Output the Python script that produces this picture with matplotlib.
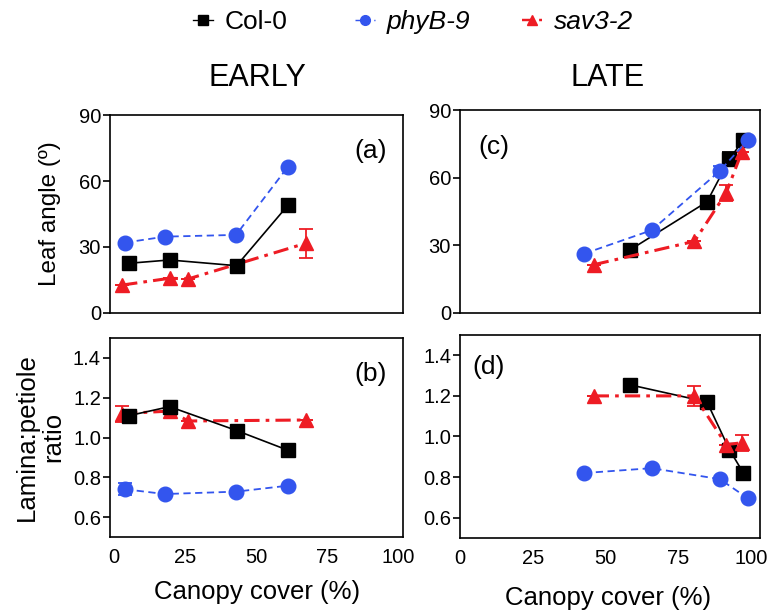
import matplotlib
matplotlib.use("Agg")
import matplotlib.pyplot as plt
from matplotlib.lines import Line2D

plt.rcParams['font.family'] = ['Liberation Sans', 'DejaVu Sans']

# ---------------- data ----------------
series_names = ["Col-0", "phyB-9", "sav3-2"]

# EARLY
early_col_x = [5.3, 19.6, 43.2, 61.3]
early_col_angle = [22.6, 24.1, 21.5, 49.0]
early_col_angle_err = [0, 0, 0, 0]
early_col_ratio = [1.11, 1.155, 1.035, 0.936]
early_col_ratio_err = [0, 0.025, 0, 0]

early_phy_x = [3.9, 17.9, 43.0, 61.3]
early_phy_angle = [32.0, 34.7, 35.5, 66.5]
early_phy_angle_err = [0, 0, 0, 0]
early_phy_ratio = [0.74, 0.716, 0.728, 0.758]
early_phy_ratio_err = [0.03, 0, 0, 0]

early_sav_x = [2.9, 19.7, 26.2, 67.6]
early_sav_angle = [12.7, 15.8, 15.5, 31.7]
early_sav_angle_err = [0, 0, 0, 6.6]
early_sav_ratio = [1.12, 1.133, 1.083, 1.088]
early_sav_ratio_err = [0.04, 0, 0, 0]

# LATE
late_col_x = [58.5, 84.8, 92.5, 97.3]
late_col_angle = [28.1, 49.3, 68.2, 76.8]
late_col_angle_err = [0, 0, 3.0, 0]
late_col_ratio = [1.254, 1.17, 0.935, 0.82]
late_col_ratio_err = [0, 0, 0.02, 0]

late_phy_x = [42.6, 65.8, 89.2, 98.9]
late_phy_angle = [26.3, 36.7, 63.0, 76.8]
late_phy_angle_err = [0, 0, 2.0, 0]
late_phy_ratio = [0.82, 0.844, 0.79, 0.695]
late_phy_ratio_err = [0, 0, 0, 0]

late_sav_x = [45.9, 80.5, 91.4, 96.7]
late_sav_angle = [21.4, 31.8, 53.3, 71.2]
late_sav_angle_err = [0, 0, 3.5, 0]
late_sav_ratio = [1.2, 1.2, 0.96, 0.969]
late_sav_ratio_err = [0, 0.05, 0, 0.04]

angle_ticks = [0, 30, 60, 90]
ratio_ticks = [0.6, 0.8, 1.0, 1.2, 1.4]
x_ticks = [0, 25, 50, 75, 100]

# ---------------- styles ----------------
BLACK = "#000000"
BLUE = "#3355ee"
RED = "#ee1c24"
styles = {
    "Col-0": dict(color=BLACK, marker="s", ls="-", lw=1.2, ms=10),
    "phyB-9": dict(color=BLUE, marker="o", ls=(0, (4, 2.5)), lw=1.3, ms=10.5),
    "sav3-2": dict(color=RED, marker="^", ls=(0, (5, 2, 1.2, 2)), lw=2.2, ms=10.5),
}

fig = plt.figure(figsize=(7.68, 6.16), dpi=100)
ax_a = fig.add_axes([0.1432, 0.4919, 0.3815, 0.3214])
ax_b = fig.add_axes([0.1432, 0.1282, 0.3815, 0.3231])
ax_c = fig.add_axes([0.5990, 0.4919, 0.3906, 0.3295])
ax_d = fig.add_axes([0.5990, 0.1266, 0.3906, 0.3296])


def plot_series(ax, name, x, y, err):
    st = styles[name]
    ax.errorbar(x, y, yerr=err, color=st["color"], ecolor=st["color"],
                elinewidth=1.3, capsize=5, capthick=1.3,
                marker=st["marker"], ms=st["ms"], ls=st["ls"], lw=st["lw"],
                mec=st["color"], mfc=st["color"], zorder=3)


plot_series(ax_a, "phyB-9", early_phy_x, early_phy_angle, early_phy_angle_err)
plot_series(ax_a, "sav3-2", early_sav_x, early_sav_angle, early_sav_angle_err)
plot_series(ax_a, "Col-0", early_col_x, early_col_angle, early_col_angle_err)

plot_series(ax_b, "phyB-9", early_phy_x, early_phy_ratio, early_phy_ratio_err)
plot_series(ax_b, "sav3-2", early_sav_x, early_sav_ratio, early_sav_ratio_err)
plot_series(ax_b, "Col-0", early_col_x, early_col_ratio, early_col_ratio_err)

plot_series(ax_c, "Col-0", late_col_x, late_col_angle, late_col_angle_err)
plot_series(ax_c, "sav3-2", late_sav_x, late_sav_angle, late_sav_angle_err)
plot_series(ax_c, "phyB-9", late_phy_x, late_phy_angle, late_phy_angle_err)

plot_series(ax_d, "phyB-9", late_phy_x, late_phy_ratio, late_phy_ratio_err)
plot_series(ax_d, "Col-0", late_col_x, late_col_ratio, late_col_ratio_err)
plot_series(ax_d, "sav3-2", late_sav_x, late_sav_ratio, late_sav_ratio_err)

for ax in (ax_a, ax_b):
    ax.set_xlim(-1.4, 101.8)
for ax in (ax_c, ax_d):
    ax.set_xlim(0.3, 103)
for ax in (ax_a, ax_c):
    ax.set_ylim(0, 90)
    ax.set_yticks(angle_ticks)
for ax in (ax_b, ax_d):
    ax.set_ylim(0.5, 1.5)
    ax.set_yticks(ratio_ticks)
    ax.set_yticklabels([f"{t:.1f}" for t in ratio_ticks])

for ax in (ax_a, ax_b, ax_c, ax_d):
    ax.set_xticks(x_ticks)
    for sp in ax.spines.values():
        sp.set_linewidth(1.2)
    ax.tick_params(axis="y", direction="out", length=5, width=1.2,
                   labelsize=14.5, pad=1.5)
    ax.tick_params(axis="x", length=0, labelsize=14.5, pad=8)
for ax in (ax_a, ax_c):
    ax.tick_params(axis="x", labelbottom=False)

# panel labels
ax_a.text(0.945, 0.82, "(a)", transform=ax_a.transAxes, ha="right", va="center", fontsize=19)
ax_b.text(0.945, 0.82, "(b)", transform=ax_b.transAxes, ha="right", va="center", fontsize=19)
ax_c.text(0.06, 0.82, "(c)", transform=ax_c.transAxes, ha="left", va="center", fontsize=19)
ax_d.text(0.04, 0.84, "(d)", transform=ax_d.transAxes, ha="left", va="center", fontsize=19)

# titles
fig.text(257 / 768, 1 - 78 / 616, "EARLY", ha="center", va="center", fontsize=22)
fig.text(608 / 768, 1 - 78 / 616, "LATE", ha="center", va="center", fontsize=22)

# axis labels
fig.text(50 / 768, 1 - 214 / 616, "Leaf angle (º)", rotation=90, ha="center", va="center", fontsize=17.5)
fig.text(40 / 768, 1 - 437 / 616, "Lamina:petiole\nratio", rotation=90, ha="center", va="center",
         fontsize=18.5, linespacing=1.15)
fig.text(257 / 768, 1 - 592 / 616, "Canopy cover (%)", ha="center", va="center", fontsize=18.5)
fig.text(608 / 768, 1 - 598 / 616, "Canopy cover (%)", ha="center", va="center", fontsize=18.5)

# legend: one entry per legend so each can be placed like the reference
legend_x = [193, 355, 522]
for i, n in enumerate(series_names):
    h = Line2D([], [], color=styles[n]["color"], marker=styles[n]["marker"],
               ls=styles[n]["ls"], lw=styles[n]["lw"] * 0.8, ms=7)
    leg = fig.legend([h], [n], loc="center left",
                     bbox_to_anchor=(legend_x[i] / 768, 1 - 22 / 616),
                     frameon=False, fontsize=19, handlelength=0.75,
                     handletextpad=0.45, borderpad=0, borderaxespad=0)
    if i > 0:
        leg.get_texts()[0].set_style("italic")

fig.savefig("out.png", dpi=100)
